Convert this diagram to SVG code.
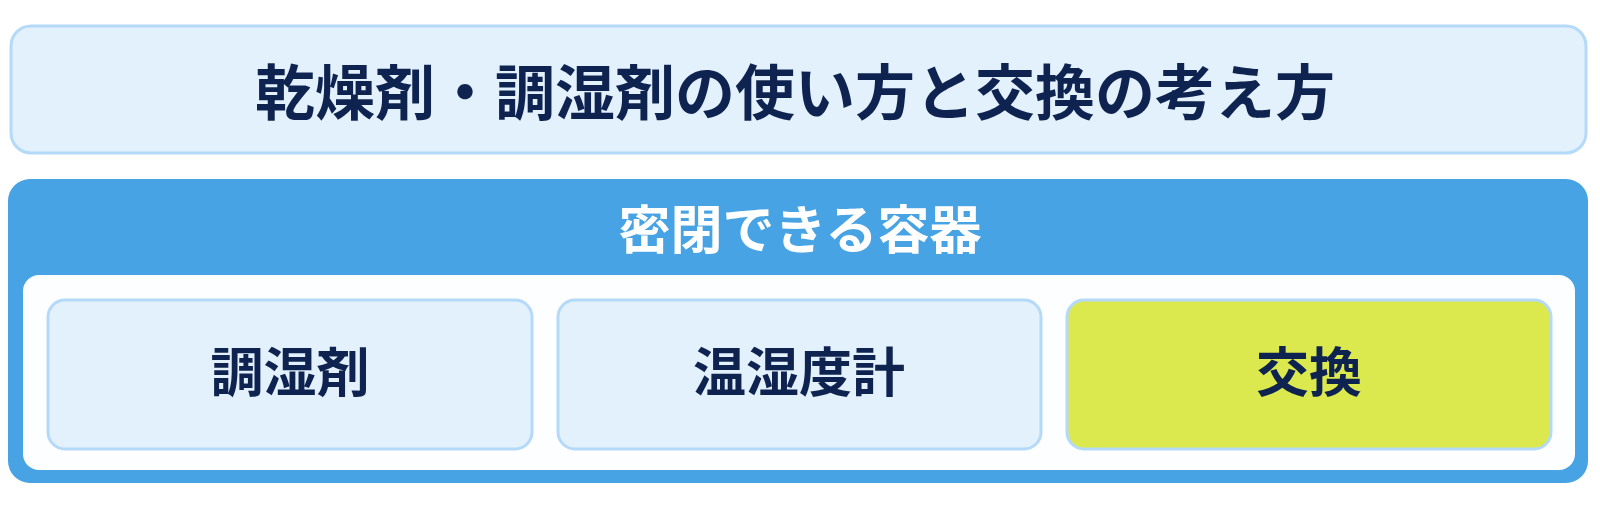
<svg xmlns="http://www.w3.org/2000/svg" width="1600" height="509" viewBox="0 0 1600 509">
<style>
.t{font-family:"Noto Sans CJK JP","Noto Sans CJK SC",sans-serif;font-weight:700;text-anchor:middle}
.dark{fill:#0e2350}
.light{fill:#e3f1fc;stroke:#b5d9f8;stroke-width:3}
</style>
<rect width="1600" height="509" fill="#ffffff"/>
<g id="title">
<rect class="light" x="11" y="26" width="1575" height="127" rx="20"/>
<text class="t dark" x="795" y="115" font-size="60">乾燥剤・調湿剤の使い方と交換の考え方</text>
</g>
<g id="container">
<rect x="8" y="179" width="1580" height="304" rx="22" fill="#47a3e3"/>
<text class="t" x="800" y="249" font-size="52" fill="#ffffff">密閉できる容器</text>
<rect x="23" y="275" width="1552" height="195" rx="16" fill="#fdfeff"/>
</g>
<g id="node1">
<rect class="light" x="48" y="300" width="484" height="149" rx="17"/>
<text class="t dark" x="290" y="392" font-size="53">調湿剤</text>
</g>
<g id="node2">
<rect class="light" x="558" y="300" width="483" height="149" rx="17"/>
<text class="t dark" x="799" y="392" font-size="53">温湿度計</text>
</g>
<g id="node3">
<rect x="1067" y="300" width="484" height="149" rx="17" fill="#dbe94e" stroke="#b5d9f8" stroke-width="3"/>
<text class="t dark" x="1309" y="392" font-size="53">交換</text>
</g>
<g id="connectors"></g>
</svg>
